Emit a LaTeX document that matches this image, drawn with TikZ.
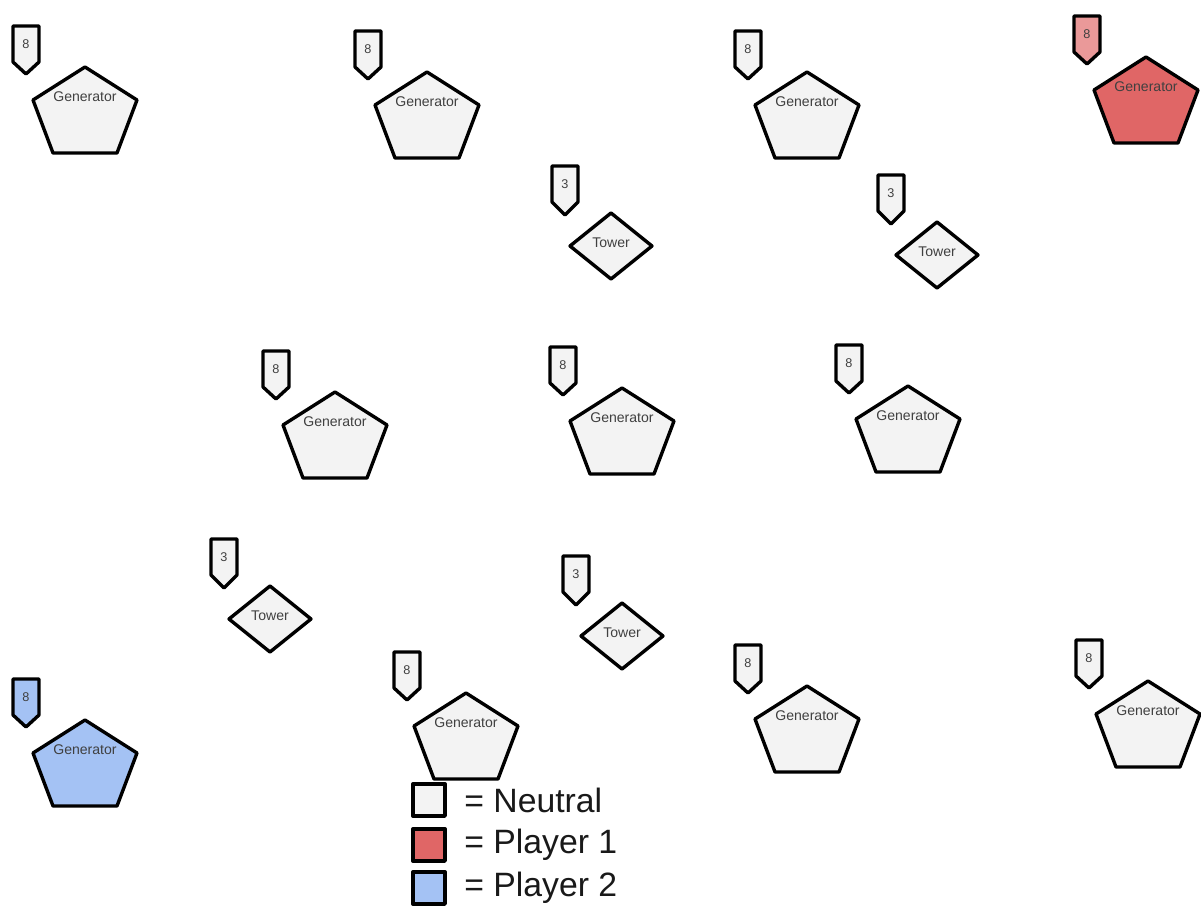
\documentclass[tikz,border=0pt]{standalone}
\usepackage{fontspec}
\setmainfont{Liberation Sans}
\usetikzlibrary{positioning}
\definecolor{neutral}{HTML}{F3F3F3}
\definecolor{playerone}{HTML}{E06666}
\definecolor{playeronetag}{HTML}{EA9999}
\definecolor{playertwo}{HTML}{A4C2F4}
\definecolor{labelgrey}{HTML}{404040}
\tikzset{
  outline/.style={draw=black,line width=2.4pt,line join=round},
  gentext/.style={font=\fontsize{10}{12}\selectfont,text=labelgrey,inner sep=0pt},
  tagtext/.style={font=\fontsize{9}{10}\selectfont,text=labelgrey,inner sep=0pt},
  keybox/.style={outline,minimum size=0.8cm,inner sep=0pt},
  keytext/.style={font=\fontsize{24}{28}\selectfont,text=black!90,inner sep=1pt},
  pics/generator/.style n args={3}{code={
    \draw[outline,fill=#1] (0,0) -- (52,33) -- (32,86) -- (-32,86) -- (-52,33) -- cycle;
    \node[gentext] (-name) at (0,30) {Generator};
    \draw[outline,fill=#2] (-72,-41) -- (-46,-41) -- (-46,-5) -- (-59,7) -- (-72,-5) -- cycle;
    \node[tagtext] (-count) at (-59,-23) {#3};
  }},
  pics/tower/.style={code={
    \draw[outline,fill=neutral] (0,-33) -- (41,0) -- (0,33) -- (-41,0) -- cycle;
    \node[gentext] (-name) at (0,-3) {Tower};
    \draw[outline,fill=neutral] (-59,-80) -- (-33,-80) -- (-33,-44) -- (-46,-31) -- (-59,-44) -- cycle;
    \node[tagtext] (-count) at (-46,-62) {#1};
  }},
}
\begin{document}
\begin{tikzpicture}[x=0.025cm,y=-0.025cm]
  \useasboundingbox (0,0) rectangle (1201,911);
  % generators
  \pic (genA) at (85,67)   {generator={neutral}{neutral}{8}};
  \pic (genB) at (427,72)  {generator={neutral}{neutral}{8}};
  \pic (genC) at (807,72)  {generator={neutral}{neutral}{8}};
  \pic (genD) at (1146,57) {generator={playerone}{playeronetag}{8}};
  \pic (genE) at (335,392) {generator={neutral}{neutral}{8}};
  \pic (genF) at (622,388) {generator={neutral}{neutral}{8}};
  \pic (genG) at (908,386) {generator={neutral}{neutral}{8}};
  \pic (genH) at (466,693) {generator={neutral}{neutral}{8}};
  \pic (genI) at (807,686) {generator={neutral}{neutral}{8}};
  \pic (genJ) at (1148,681) {generator={neutral}{neutral}{8}};
  \pic (genK) at (85,720)  {generator={playertwo}{playertwo}{8}};
  % towers
  \pic (towA) at (611,246) {tower=3};
  \pic (towB) at (937,255) {tower=3};
  \pic (towC) at (270,619) {tower=3};
  \pic (towD) at (622,636) {tower=3};
  % legend
  \node[keybox,fill=neutral]   (keyN)  at (429,800) {};
  \node[keybox,fill=playerone] (keyP1) at (429,845) {};
  \node[keybox,fill=playertwo] (keyP2) at (429,888) {};
  \node[keytext,right=0.4cm of keyN]  (txtN)  {= Neutral};
  \node[keytext,right=0.4cm of keyP1] (txtP1) {= Player 1};
  \node[keytext,right=0.4cm of keyP2] (txtP2) {= Player 2};
\end{tikzpicture}
\end{document}
